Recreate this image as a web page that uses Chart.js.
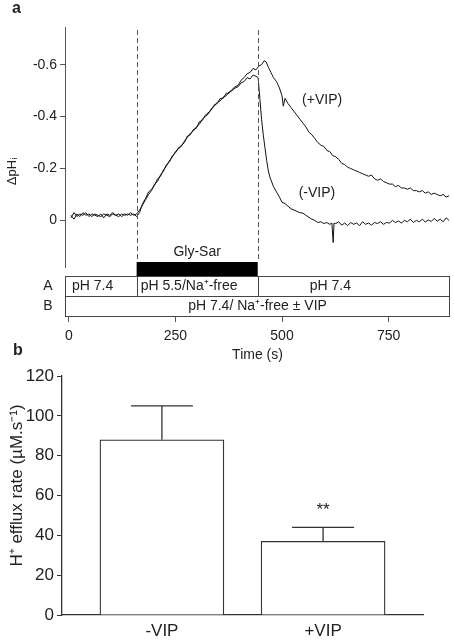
<!DOCTYPE html>
<html>
<head>
<meta charset="utf-8">
<script src="https://cdn.jsdelivr.net/npm/chart.js@4.4.0/dist/chart.umd.min.js"></script>
<style>
  body { margin: 0; background: #fff; }
  #wrap { position: relative; width: 454px; height: 640px; }
  canvas { position: absolute; left: 0; }
  #traceChart { top: 0; }
  #barChart { top: 360px; }
</style>
</head>
<body>
<div id="wrap">
  <canvas id="traceChart" width="454" height="365"></canvas>
  <canvas id="barChart" width="454" height="280"></canvas>
</div>
<script>
// panel a: pHi traces (time in s, delta pHi)
const timeMinusVip = [5, 12, 19, 26, 33, 40, 47, 54, 61, 68, 75, 82, 89, 96, 103, 110, 117, 124, 131, 138, 145, 152, 159,
  166, 173, 180, 187, 194, 201, 208, 215, 222, 229, 236, 243, 250, 257, 264, 271, 278, 285, 292, 299, 306, 313, 320,
  327, 334, 341, 348, 355, 362, 369, 376, 383, 390, 397, 404, 411, 418, 425, 432, 439,
  444, 448, 452, 456, 460, 464, 468, 472, 476, 480, 487, 494, 500, 507, 514, 521, 528, 535, 542, 549, 556, 563, 570,
  577, 584, 591, 598, 605, 612, 617, 620, 622, 626, 633, 640, 647, 654, 661, 668, 675, 682, 689, 696, 703, 710, 717,
  724, 731, 738, 745, 752, 759, 766, 773, 780, 787, 794, 801, 808, 815, 822, 829, 836, 843, 850, 857, 864, 871, 878, 885, 892];
const phMinusVip = [-0.01, -0.03, -0.015, -0.025, -0.02, -0.03, -0.015, -0.025, -0.02, -0.015, -0.025, -0.01, -0.025, -0.02, -0.03, -0.02, -0.025, -0.015, -0.025, -0.02, -0.03, -0.02, -0.025,
  -0.04, -0.06, -0.08, -0.1, -0.115, -0.14, -0.15, -0.175, -0.19, -0.215, -0.225, -0.25, -0.26, -0.28, -0.285, -0.305, -0.32, -0.335, -0.345, -0.36, -0.37, -0.39, -0.4,
  -0.41, -0.43, -0.44, -0.455, -0.46, -0.475, -0.48, -0.495, -0.5, -0.51, -0.515, -0.53, -0.535, -0.55, -0.545, -0.56, -0.555,
  -0.55, -0.47, -0.39, -0.33, -0.28, -0.23, -0.19, -0.165, -0.148, -0.13, -0.11, -0.09, -0.07, -0.065, -0.055, -0.045, -0.04, -0.035, -0.03, -0.028, -0.02, -0.012, -0.005,
  0.0, 0.008, 0.005, 0.012, 0.008, 0.015, 0.01, 0.085, 0.01, 0.012, 0.005, 0.018, 0.01, 0.02, 0.008, 0.015, 0.01, 0.02, 0.005, 0.015, 0.01, 0.018, 0.008,
  0.012, 0.005, 0.015, 0.008, 0.01, 0.0, 0.008, 0.002, 0.01, 0.0, 0.005, -0.005, 0.008, 0.0, 0.005, -0.005, 0.006, -0.002, 0.004, -0.008, 0.003, -0.005, 0.005, -0.01, 0.0];

const timePlusVip = [5, 12, 19, 26, 33, 40, 47, 54, 61, 68, 75, 82, 89, 96, 103, 110, 117, 124, 131, 138, 145, 152, 159,
  166, 173, 180, 187, 194, 201, 208, 215, 222, 229, 236, 243, 250, 257, 264, 271, 278, 285, 292, 299, 306, 313, 320,
  327, 334, 341, 348, 355, 362, 369, 376, 383, 390, 397, 404, 411, 418, 425, 432, 439,
  446, 452, 458, 463, 468, 474, 480, 487, 494, 500, 503, 507, 514, 521, 528, 535, 542, 549, 556, 563, 570, 577, 584,
  591, 598, 605, 612, 619, 626, 633, 640, 647, 654, 661, 668, 675, 682, 689, 696, 703, 710, 717, 724, 731, 738, 745,
  752, 759, 766, 773, 780, 787, 794, 801, 808, 815, 822, 829, 836, 843, 850, 857, 864, 871, 878, 885, 892];
const phPlusVip = [-0.02, -0.005, -0.025, -0.015, -0.03, -0.02, -0.025, -0.015, -0.025, -0.02, -0.015, -0.025, -0.02, -0.015, -0.025, -0.02, -0.015, -0.025, -0.02, -0.025, -0.02, -0.025, -0.015,
  -0.03, -0.065, -0.085, -0.11, -0.12, -0.135, -0.16, -0.17, -0.195, -0.21, -0.23, -0.245, -0.265, -0.275, -0.29, -0.3, -0.325, -0.33, -0.35, -0.355, -0.38, -0.385, -0.405,
  -0.415, -0.425, -0.445, -0.45, -0.47, -0.47, -0.49, -0.49, -0.505, -0.515, -0.52, -0.54, -0.55, -0.565, -0.57, -0.585, -0.58,
  -0.595, -0.6, -0.615, -0.61, -0.59, -0.57, -0.55, -0.535, -0.51, -0.48, -0.44, -0.47, -0.45, -0.435, -0.42, -0.405, -0.39, -0.375, -0.36, -0.34, -0.33, -0.315, -0.3,
  -0.29, -0.285, -0.27, -0.265, -0.25, -0.245, -0.235, -0.22, -0.215, -0.205, -0.2, -0.195, -0.19, -0.185, -0.18, -0.175, -0.17, -0.175, -0.16, -0.155, -0.16, -0.15, -0.145,
  -0.14, -0.14, -0.13, -0.135, -0.125, -0.125, -0.12, -0.125, -0.115, -0.115, -0.11, -0.115, -0.105, -0.11, -0.1, -0.105, -0.1, -0.095, -0.1, -0.09, -0.095];

const timeTicks = [0, 250, 500, 750];
const phTicks = [-0.6, -0.4, -0.2, 0];
const glySarOn = 159;
const glySarOff = 443;

// panel b: H+ efflux rate
const conditions = ['-VIP', '+VIP'];
const effluxMean = [88, 37];
const effluxSem = [17, 7];
const effluxTicks = [0, 20, 40, 60, 80, 100, 120];

const FONT = "'Liberation Sans', Arial, sans-serif";
const AXIS = '#555';
const INK = '#222';

function toPoints(xs, ys) {
  return xs.map((t, i) => ({ x: t, y: ys[i] }));
}

const protocolPlugin = {
  id: 'protocol',
  afterDraw(chart) {
    const { ctx, chartArea: area, scales: { x, y } } = chart;
    const xOn = x.getPixelForValue(glySarOn);
    const xOff = x.getPixelForValue(glySarOff);
    const rowA = area.bottom - 40;
    const rowB = area.bottom - 20;
    const barTop = area.bottom - 54;
    ctx.save();
    ctx.strokeStyle = AXIS;
    ctx.lineWidth = 1;
    // y axis line stops above the protocol boxes
    ctx.beginPath();
    ctx.moveTo(area.left + 0.5, area.top);
    ctx.lineTo(area.left + 0.5, area.bottom - 48);
    ctx.stroke();
    // dashed solution change markers
    ctx.setLineDash([5, 3]);
    [xOn, xOff].forEach(px => {
      ctx.beginPath();
      ctx.moveTo(Math.round(px) + 0.5, area.top + 3);
      ctx.lineTo(Math.round(px) + 0.5, barTop);
      ctx.stroke();
    });
    ctx.setLineDash([]);
    // Gly-Sar bar
    ctx.fillStyle = '#000';
    ctx.fillRect(xOn, barTop, xOff - xOn, 14);
    // protocol boxes
    ctx.strokeStyle = '#444';
    ctx.strokeRect(area.left + 0.5, rowA + 0.5, area.right - area.left - 1, 40);
    ctx.beginPath();
    ctx.moveTo(area.left, rowB + 0.5); ctx.lineTo(area.right, rowB + 0.5);
    ctx.moveTo(Math.round(xOn) + 0.5, rowA); ctx.lineTo(Math.round(xOn) + 0.5, rowB);
    ctx.moveTo(Math.round(xOff) + 0.5, rowA); ctx.lineTo(Math.round(xOff) + 0.5, rowB);
    ctx.stroke();
    // texts
    ctx.fillStyle = INK;
    ctx.font = '14px ' + FONT;
    ctx.textBaseline = 'middle';
    ctx.textAlign = 'left';
    ctx.fillText('pH 7.4', area.left + 7, rowA + 10);
    ctx.fillText('pH 5.5/Na\u207A-free', xOn + 4, rowA + 10);
    ctx.fillText('pH 7.4', xOff + 52, rowA + 10);
    ctx.textAlign = 'center';
    ctx.fillText('pH 7.4/ Na\u207A-free \u00B1 VIP', (area.left + area.right) / 2, rowB + 10);
    ctx.fillText('Gly-Sar', (xOn + xOff) / 2, barTop - 10);
    ctx.fillText('A', area.left - 17, rowA + 10);
    ctx.fillText('B', area.left - 17, rowB + 10);
    ctx.fillText('(+VIP)', x.getPixelForValue(594), y.getPixelForValue(-0.463));
    ctx.fillText('(-VIP)', x.getPixelForValue(582), y.getPixelForValue(-0.105));
    // panel letters
    ctx.textAlign = 'left';
    ctx.textBaseline = 'alphabetic';
    ctx.font = 'bold 16px ' + FONT;
    ctx.fillText('a', 12, 13);
    ctx.fillText('b', 13, 355);
    ctx.restore();
  }
};

new Chart(document.getElementById('traceChart'), {
  type: 'line',
  data: {
    datasets: [
      { label: '-VIP', data: toPoints(timeMinusVip, phMinusVip) },
      { label: '+VIP', data: toPoints(timePlusVip, phPlusVip) }
    ]
  },
  options: {
    responsive: false,
    animation: false,
    layout: { padding: { top: 27, right: 4, left: 0, bottom: 0 } },
    elements: {
      line: { borderColor: '#111', borderWidth: 1, tension: 0 },
      point: { radius: 0 }
    },
    plugins: { legend: { display: false }, tooltip: { enabled: false } },
    scales: {
      x: {
        type: 'linear',
        min: -9,
        max: 894,
        afterBuildTicks: s => { s.ticks = timeTicks.map(v => ({ value: v })); },
        afterFit: s => { s.height = 49; },
        border: { display: false },
        grid: { drawOnChartArea: false, tickLength: 6, color: AXIS },
        ticks: { color: INK, font: { family: FONT, size: 14 }, padding: 6, maxRotation: 0 },
        title: { display: true, text: 'Time (s)', color: INK, font: { family: FONT, size: 14 }, padding: { top: 0, bottom: 1 } }
      },
      y: {
        reverse: true,
        min: -0.745,
        max: 0.368,
        afterBuildTicks: s => { s.ticks = phTicks.map(v => ({ value: v })); },
        afterFit: s => { s.width = 65; },
        border: { display: false },
        grid: { drawOnChartArea: false, tickLength: 5, color: AXIS },
        ticks: { color: INK, font: { family: FONT, size: 14 }, padding: 3, callback: v => (v === 0 ? '0' : v.toFixed(1)) },
        title: { display: true, text: '\u0394pH\u1D62', color: INK, font: { family: FONT, size: 13 }, padding: { top: 5, bottom: 0 } }
      }
    }
  },
  plugins: [protocolPlugin]
});

const errorPlugin = {
  id: 'errors',
  afterDatasetsDraw(chart) {
    const { ctx, scales: { y } } = chart;
    const meta = chart.getDatasetMeta(0);
    ctx.save();
    ctx.strokeStyle = '#333';
    ctx.lineWidth = 1.3;
    meta.data.forEach((bar, i) => {
      const top = y.getPixelForValue(effluxMean[i] + effluxSem[i]);
      ctx.beginPath();
      ctx.moveTo(bar.x, bar.y);
      ctx.lineTo(bar.x, top);
      ctx.moveTo(bar.x - 31, top);
      ctx.lineTo(bar.x + 31, top);
      ctx.stroke();
    });
    const star = meta.data[1];
    ctx.fillStyle = INK;
    ctx.font = '17px ' + FONT;
    ctx.textAlign = 'center';
    ctx.textBaseline = 'alphabetic';
    ctx.fillText('**', star.x, y.getPixelForValue(effluxMean[1] + effluxSem[1]) - 12);
    // y axis title
    ctx.translate(17, (chart.chartArea.top + chart.chartArea.bottom) / 2 - 10);
    ctx.rotate(-Math.PI / 2);
    ctx.textBaseline = 'middle';
    ctx.fillText('H\u207A efflux rate (\u00B5M.s\u207B\u00B9)', 0, 0);
    ctx.restore();
  }
};

new Chart(document.getElementById('barChart'), {
  type: 'bar',
  data: {
    datasets: [{
      data: conditions.map((c, i) => ({ x: i + 1, y: effluxMean[i] })),
      backgroundColor: '#fff',
      borderColor: '#333',
      borderWidth: 1.3,
      barThickness: 124
    }]
  },
  options: {
    responsive: false,
    animation: false,
    layout: { padding: { top: 16, right: 31, left: 0, bottom: 0 } },
    plugins: { legend: { display: false }, tooltip: { enabled: false } },
    scales: {
      x: {
        type: 'linear',
        offset: false,
        min: 0.38,
        max: 2.62,
        afterBuildTicks: s => { s.ticks = conditions.map((c, i) => ({ value: i + 1 })); },
        afterFit: s => { s.height = 25; },
        border: { display: true, color: '#333', width: 1.3 },
        grid: { display: false, drawTicks: false, offset: false },
        ticks: { color: INK, font: { family: FONT, size: 17 }, padding: 6, callback: v => conditions[v - 1] }
      },
      y: {
        min: 0,
        max: 120,
        afterBuildTicks: s => { s.ticks = effluxTicks.map(v => ({ value: v })); },
        afterFit: s => { s.width = 62; },
        border: { display: true, color: '#333', width: 1.3 },
        grid: { drawOnChartArea: false, tickLength: 5, color: '#333' },
        ticks: { color: INK, font: { family: FONT, size: 17 }, padding: 3 }
      }
    }
  },
  plugins: [errorPlugin]
});
</script>
</body>
</html>
